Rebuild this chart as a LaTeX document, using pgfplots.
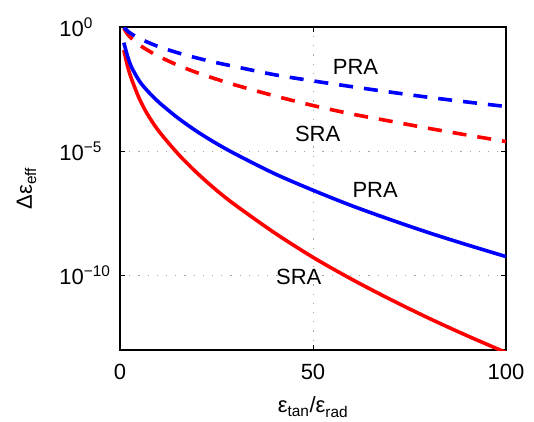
\documentclass[border=0pt]{standalone}
\usepackage{pgfplots}
\pgfplotsset{compat=1.18}
\usepackage{fontspec}
\setmainfont{Liberation Sans}

% values (x = eps_tan/eps_rad)
\pgfplotstableread{
x    sraS       praS       sraD       praD
1    1.175e-1   2.344e-1   8.913e-1   9.800e-1
2    2.512e-2   6.310e-2   5.012e-1   6.761e-1
3    7.943e-3   2.399e-2   3.467e-1   5.248e-1
5    1.318e-3   6.761e-3   1.905e-1   3.467e-1
7    3.311e-4   2.818e-3   1.202e-1   2.512e-1
10   6.607e-5   9.550e-4   6.607e-2   1.622e-1
15   7.943e-6   2.188e-4   2.884e-2   9.120e-2
20   1.318e-6   6.166e-5   1.445e-2   5.623e-2
25   2.692e-7   2.042e-5   7.943e-3   3.673e-2
30   6.607e-8   7.586e-6   4.571e-3   2.512e-2
40   5.248e-9   1.259e-6   1.698e-3   1.202e-2
50   5.370e-10  2.692e-7   6.918e-4   6.761e-3
60   7.079e-11  6.457e-8   3.162e-4   3.981e-3
70   1.096e-11  1.778e-8   1.622e-4   2.399e-3
80   1.905e-12  5.248e-9   8.318e-5   1.479e-3
90   3.715e-13  1.698e-9   4.467e-5   9.550e-4
100  7.943e-14  5.754e-10  2.455e-5   6.310e-4
}\effdata

\begin{document}
\begin{tikzpicture}[font=\fontsize{22bp}{26bp}\selectfont]
\begin{axis}[
    scale only axis,
    width=386bp, height=323bp,
    ymode=log,
    xmin=0, xmax=100,
    ymin=1e-13, ymax=1,
    xtick={0,50,100},
    xticklabels={0,50,100},
    ytick={1e-10,1e-5,1},
    yticklabels={10\rlap{\textsuperscript{−10}},10\rlap{\textsuperscript{−5}},10\rlap{\textsuperscript{0}}},
    yminorticks=false,
    xminorticks=false,
    major tick length=5bp,
    tick style={black, line width=1bp},
    axis line style={line width=1.6bp},
    grid=major,
    major grid style={gray!70, line width=0.9bp, dash pattern=on 1.2bp off 8bp},
    xticklabel style={anchor=north, inner sep=0pt, yshift=-14bp},
    yticklabel style={anchor=east, inner sep=0pt, xshift=-36bp},
    xlabel={ε\textsubscript{tan}/ε\textsubscript{rad}},
    ylabel={Δε\textsubscript{eff}},
    xlabel style={at={(axis description cs:0.5,-0.195)}, anchor=base, inner sep=0pt},
    ylabel style={at={(axis description cs:-0.228,0.5)}, anchor=base, inner sep=0pt},
]
\addplot[red, line width=3.6bp, smooth] table[x=x, y=sraS] {\effdata};
\addplot[blue, line width=3.6bp, smooth] table[x=x, y=praS] {\effdata};
\addplot[red, line width=3.6bp, smooth, dash pattern=on 14bp off 11bp] table[x=x, y=sraD] {\effdata};
\addplot[blue, line width=3.6bp, smooth, dash pattern=on 14bp off 11bp] table[x=x, y=praD] {\effdata};

\node[inner sep=0pt] at (axis cs:61,2.45e-2) {PRA};
\node[inner sep=0pt] at (axis cs:51.2,5.01e-5) {SRA};
\node[inner sep=0pt] at (axis cs:66.1,2.88e-7) {PRA};
\node[inner sep=0pt] at (axis cs:46.3,9.12e-11) {SRA};
\end{axis}
\pgfresetboundingbox
\path ([shift={(-120bp,-72bp)}]current axis.south west) rectangle ([shift={(28bp,27bp)}]current axis.north east);
\end{tikzpicture}
\end{document}
